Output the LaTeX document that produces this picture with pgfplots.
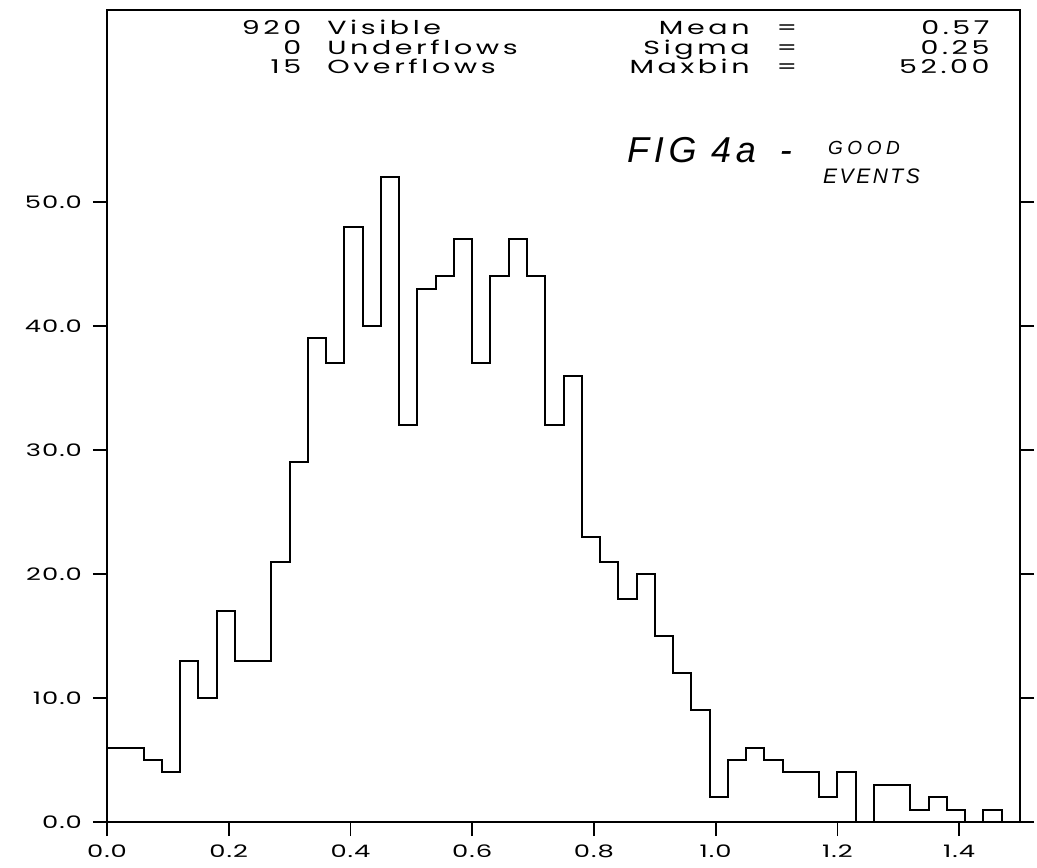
\documentclass[border=0pt]{standalone}
\usepackage{pgfplots}
\pgfplotsset{compat=1.18}
\usepackage{fontspec}
\setmainfont{Poppins}[FakeStretch=1.5,LetterSpace=6]
\newfontfamily\handfont{Liberation Sans}
\newcommand\hd{\fontsize{9.5}{11}\selectfont\addfontfeature{LetterSpace=19}}
\begin{document}
\begin{tikzpicture}
\begin{axis}[name=ax, scale only axis,
  width=456.5pt, height=406pt,
  xmin=0, xmax=1.5, ymin=0, ymax=65.48,
  axis line style={line width=1pt},
  every tick/.style={black, line width=0.9pt},
  major tick length=7pt, tick align=outside,
  xtick={0,0.2,...,1.4}, ytick={0,10,...,50},
  xtick pos=bottom, ytick pos=both, yticklabel pos=left,
  /pgf/number format/assume math mode=true,
  xticklabel style={/pgf/number format/.cd, fixed, fixed zerofill, precision=1},
  yticklabel style={/pgf/number format/.cd, fixed, fixed zerofill, precision=1},
  tick label style={font=\fontsize{8.6}{10}\selectfont},
  xticklabel shift=1pt, yticklabel shift=2pt,
  clip=false,
]
\addplot[const plot, black, line width=1pt] coordinates {
(0.00,6) (0.03,6) (0.06,5) (0.09,4) (0.12,13) (0.15,10) (0.18,17) (0.21,13) (0.24,13) (0.27,21)
(0.30,29) (0.33,39) (0.36,37) (0.39,48) (0.42,40) (0.45,52) (0.48,32) (0.51,43) (0.54,44) (0.57,47)
(0.60,37) (0.63,44) (0.66,47) (0.69,44) (0.72,32) (0.75,36) (0.78,23) (0.81,21) (0.84,18) (0.87,20)
(0.90,15) (0.93,12) (0.96,9) (0.99,2) (1.02,5) (1.05,6) (1.08,5) (1.11,4) (1.14,4) (1.17,2)
(1.20,4) (1.23,0) (1.26,3) (1.29,3) (1.32,1) (1.35,2) (1.38,1) (1.41,0) (1.44,1) (1.47,0) (1.50,0)
};
\begin{scope}[every node/.style={font=\hd, inner sep=0pt}]
\node[anchor=base east] at (axis cs:0.320,63.47) {920};
\node[anchor=base east] at (axis cs:0.320,61.90) {0};
\node[anchor=base east] at (axis cs:0.320,60.32) {15};
\node[anchor=base west] at (axis cs:0.3614,63.47) {Visible};
\node[anchor=base west] at (axis cs:0.3614,61.90) {Underflows};
\node[anchor=base west] at (axis cs:0.3614,60.32) {Overflows};
\node[anchor=base east] at (axis cs:1.0563,63.47) {Mean};
\node[anchor=base east] at (axis cs:1.0563,61.90) {Sigma};
\node[anchor=base east] at (axis cs:1.0563,60.32) {Maxbin};
\node[anchor=base] at (axis cs:1.117,63.47) {=};
\node[anchor=base] at (axis cs:1.117,61.90) {=};
\node[anchor=base] at (axis cs:1.117,60.32) {=};
\node[anchor=base east] at (axis cs:1.4506,63.47) {0.57};
\node[anchor=base east] at (axis cs:1.4506,61.90) {0.25};
\node[anchor=base east] at (axis cs:1.4506,60.32) {52.00};
\end{scope}
\node[anchor=base west, inner sep=0pt, font=\handfont\itshape\fontsize{18}{18}\selectfont\addfontfeature{LetterSpace=13}] at (axis cs:0.854,53.2) {FIG 4a};
\node[anchor=base, inner sep=0pt, font=\handfont\itshape\fontsize{18}{18}\selectfont] at (axis cs:1.1155,53.2) {-};
\node[anchor=base west, inner sep=0pt, font=\handfont\itshape\fontsize{9.5}{9.5}\selectfont\addfontfeature{LetterSpace=24}] at (axis cs:1.184,53.8) {GOOD};
\node[anchor=base west, inner sep=0pt, font=\handfont\itshape\fontsize{10.5}{10.5}\selectfont\addfontfeature{LetterSpace=12}] at (axis cs:1.176,51.45) {EVENTS};
\end{axis}
\pgfresetboundingbox
\path[use as bounding box] ([shift={(-53.5pt,-22.5pt)}]ax.south west) rectangle ([shift={(8.5pt,5pt)}]ax.north east);
\end{tikzpicture}
\end{document}
